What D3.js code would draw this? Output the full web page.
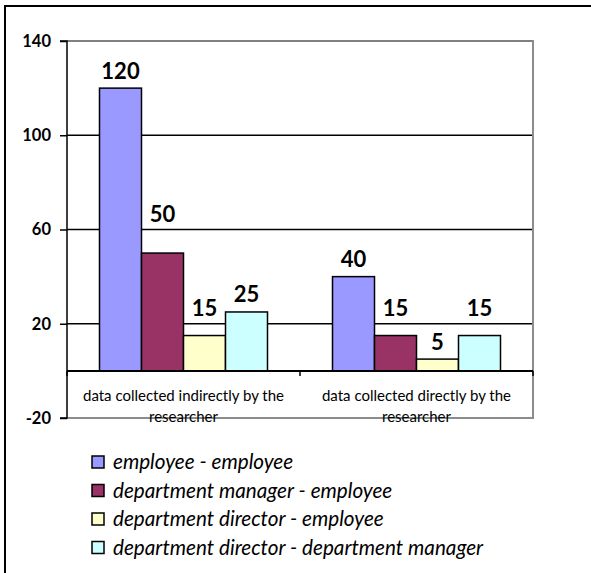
<!DOCTYPE html>
<html>
<head>
<meta charset="utf-8">
<script src="https://cdn.jsdelivr.net/npm/d3@7"></script>
<style>
  html, body { margin: 0; padding: 0; background: #fff; overflow: hidden; }
  svg { display: block; }
</style>
</head>
<body>
<svg id="chart" width="591" height="573"></svg>
<script>
const categories = ["data collected indirectly by the researcher", "data collected directly by the researcher"];
const seriesNames = ["employee - employee", "department manager - employee", "department director - employee", "department director - department manager"];
const seriesColors = ["#9999FF", "#993366", "#FFFFCC", "#CCFFFF"];
const valuesIndirect = [120, 50, 15, 25];
const valuesDirect = [40, 15, 5, 15];
const yTicks = [-20, 20, 60, 100, 140];

(function () {
const table = categories.map((c, i) => ({ category: c, values: [valuesIndirect, valuesDirect][i] }));

const svg = d3.select("#chart");
const font = "Lato, 'Open Sans', sans-serif";

// outer frame (only top and left edges are inside the picture)
svg.append("line").attr("x1", 4).attr("x2", 591).attr("y1", 6).attr("y2", 6)
  .attr("stroke", "#000").attr("stroke-width", 2);
svg.append("line").attr("x1", 5).attr("x2", 5).attr("y1", 5).attr("y2", 573)
  .attr("stroke", "#000").attr("stroke-width", 2);

const pL = 67, pR = 533, pT = 41, pB = 418;
const y = d3.scaleLinear().domain([-20, 140]).range([pB, pT]);
const x0 = d3.scaleBand().domain(categories).range([pL, pR]).paddingInner(0).paddingOuter(0);
const barW = 42;
const x1 = d3.scaleBand().domain(d3.range(seriesNames.length)).range([0, barW * 4]).padding(0);

// gridlines
const grid = svg.append("g");
yTicks.forEach(t => {
  if (t === -20) return;
  grid.append("line").attr("x1", pL).attr("x2", pR).attr("y1", y(t)).attr("y2", y(t))
    .attr("stroke", t === 140 ? "#808080" : "#000").attr("stroke-width", t === 140 ? 2 : 1.5);
});
// plot area border right & bottom (gray)
svg.append("line").attr("x1", pR).attr("x2", pR).attr("y1", pT - 1).attr("y2", pB + 1)
  .attr("stroke", "#8c8c8c").attr("stroke-width", 2);
svg.append("line").attr("x1", pL).attr("x2", pR + 1).attr("y1", pB).attr("y2", pB)
  .attr("stroke", "#8c8c8c").attr("stroke-width", 2);

// y axis
const yAxis = d3.axisLeft(y).tickValues(yTicks).tickSize(7).tickPadding(9).tickFormat(d => String(d));
const ya = svg.append("g").attr("transform", `translate(${pL},0)`).call(yAxis);
ya.select(".domain").attr("stroke", "#000").attr("stroke-width", 1.5).attr("d", `M-7,${pT}H0V${pB}H-7`);
ya.selectAll(".tick line").attr("stroke", "#000").attr("stroke-width", 1.5);
ya.selectAll(".tick text").attr("font-family", font).attr("font-weight", "bold").attr("font-size", 16.5).attr("fill", "#000");

// bars
const groups = svg.append("g").selectAll("g").data(table).join("g")
  .attr("transform", d => `translate(${x0(d.category) + (x0.bandwidth() - barW * 4) / 2},0)`);
groups.selectAll("rect").data(d => d.values.map((v, i) => ({ v, i }))).join("rect")
  .attr("x", d => x1(d.i)).attr("width", x1.bandwidth())
  .attr("y", d => y(Math.max(0, d.v))).attr("height", d => Math.abs(y(d.v) - y(0)))
  .attr("fill", d => seriesColors[d.i]).attr("stroke", "#000").attr("stroke-width", 1.5);

// data labels with simple gridline-avoidance
const labelSize = 22, capH = 16;
groups.selectAll("text.val").data(d => d.values.map((v, i) => ({ v, i }))).join("text")
  .attr("class", "val")
  .attr("x", d => x1(d.i) + x1.bandwidth() / 2)
  .attr("y", d => {
    let base = y(d.v) - 9.5;
    yTicks.forEach(t => {
      const gy = y(t);
      if (gy < base + 2 && gy > base - capH - 2) base = Math.min(base, gy - 8);
    });
    return base;
  })
  .attr("text-anchor", "middle").attr("font-family", font).attr("font-weight", "bold")
  .attr("font-size", labelSize).attr("fill", "#000").text(d => d.v);

// category axis at 0
const xAxis = d3.axisBottom(x0).tickValues([]).tickSize(0);
const xa = svg.append("g").attr("transform", `translate(0,${y(0)})`).call(xAxis);
xa.select(".domain").attr("stroke", "#000").attr("stroke-width", 2).attr("d", `M${pL},0H${pR}`);
const ticksX = [pL, x0(categories[1]), pR];
ticksX.forEach(tx => xa.append("line").attr("x1", tx).attr("x2", tx).attr("y1", 0).attr("y2", 5)
  .attr("stroke", "#000").attr("stroke-width", 1.5));
categories.forEach(c => {
  const cx = x0(c) + x0.bandwidth() / 2;
  const words = c.split(" ");
  const line1 = words.slice(0, -1).join(" "), line2 = words[words.length - 1];
  const t = xa.append("text").attr("x", cx).attr("y", 30).attr("text-anchor", "middle")
    .attr("font-family", font).attr("font-size", 15).attr("fill", "#000");
  t.append("tspan").attr("x", cx).attr("dy", 0).text(line1);
  t.append("tspan").attr("x", cx).attr("dy", 21.5).text(line2);
});

// legend
const legend = svg.append("g").attr("transform", "translate(92,456)");
const li = legend.selectAll("g").data(seriesNames).join("g")
  .attr("transform", (d, i) => `translate(0,${i * 28.5})`);
li.append("rect").attr("width", 12).attr("height", 12).attr("fill", (d, i) => seriesColors[i])
  .attr("stroke", "#000").attr("stroke-width", 1.5);
li.append("text").attr("x", 21).attr("y", 13).attr("font-family", font).attr("font-style", "italic")
  .attr("font-size", 20.7).attr("fill", "#000").text(d => d);
})();
</script>
</body>
</html>
